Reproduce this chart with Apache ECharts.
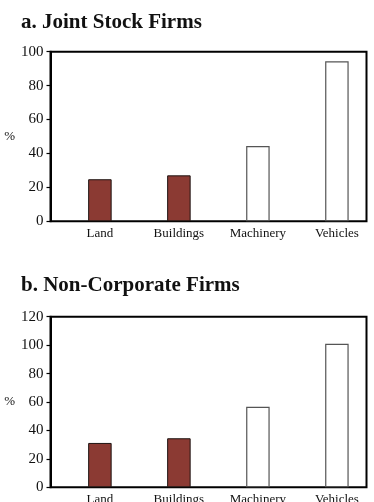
<!DOCTYPE html>
<html>
<head>
<meta charset="utf-8">
<script src="https://cdn.jsdelivr.net/npm/echarts@6/dist/echarts.min.js"></script>
<style>
  html, body { margin: 0; padding: 0; background: #fff; }
  #chart { width: 374px; height: 502px; }
</style>
</head>
<body>
<div id="chart"></div>
<script>
// Asset categories shown on both panels
const categories = ['Land', 'Buildings', 'Machinery', 'Vehicles'];

// Panel a: joint stock firms (%)
const jointStockValues = [24.8, 27.1, 44.4, 94.3];
// Panel b: non-corporate firms (%)
const nonCorporateValues = [31.2, 34.5, 56.7, 101];

// Tick settings for each panel's value axis
const yTicksA = { min: 0, max: 100, interval: 20 };
const yTicksB = { min: 0, max: 120, interval: 20 };

// Immovable assets are filled, movable ones are hollow
const filledCategories = ['Land', 'Buildings'];

const FONT = 'Liberation Serif, Times New Roman, serif';
const RED = '#8b3a33';

function barData(values) {
  return values.map((v, i) => {
    const filled = filledCategories.includes(categories[i]);
    return {
      value: v,
      itemStyle: filled
        ? { color: RED, borderColor: '#1e1412', borderWidth: 1 }
        : { color: '#ffffff', borderColor: '#555', borderWidth: 1.2 }
    };
  });
}

// Each panel uses a frame grid (box + y axis) and a data grid (bars + category labels)
const panels = [
  { title: 'a. Joint Stock Firms', titleTop: 7, top: 51.7, height: 169.6, ticks: yTicksA, values: jointStockValues, namePad: [0, 0, 0, 0], nameGap: 32 },
  { title: 'b. Non-Corporate Firms', titleTop: 270, top: 316.7, height: 170.6, ticks: yTicksB, values: nonCorporateValues, namePad: [0, 0, 7, 0], nameGap: 35 }
];

const option = {
  animation: false,
  backgroundColor: '#fff',
  title: [],
  grid: [],
  xAxis: [],
  yAxis: [],
  series: []
};

panels.forEach((p) => {
  option.title.push({
    text: p.title,
    left: 16,
    top: p.titleTop,
    textStyle: { fontFamily: FONT, fontWeight: 'bold', fontSize: 21, color: '#111' }
  });

  const frameIdx = option.grid.length;
  option.grid.push({
    left: 50.5, top: p.top, width: 316, height: p.height,
    outerBoundsMode: 'none', containLabel: false,
    show: true, borderColor: '#000', borderWidth: 2, backgroundColor: 'transparent'
  });
  const dataIdx = option.grid.length;
  option.grid.push({
    left: 60.4, top: p.top, width: 316, height: p.height,
    outerBoundsMode: 'none', containLabel: false
  });

  // frame axes
  option.xAxis.push({ type: 'value', gridIndex: frameIdx, show: false, min: 0, max: 1 });
  option.yAxis.push({
    type: 'value', gridIndex: frameIdx,
    min: p.ticks.min, max: p.ticks.max, interval: p.ticks.interval,
    name: '%', nameLocation: 'middle', nameRotate: 0, nameGap: p.nameGap,
    nameTextStyle: { fontFamily: FONT, fontSize: 13, color: '#111', padding: p.namePad },
    axisLine: { show: true, lineStyle: { color: '#000', width: 2 } },
    axisTick: { show: true, length: 4, lineStyle: { color: '#000', width: 1.2 } },
    axisLabel: { fontFamily: FONT, fontSize: 15, color: '#111', margin: 7 },
    splitLine: { show: false }
  });

  // data axes
  const xIdx = option.xAxis.length;
  option.xAxis.push({
    type: 'category', gridIndex: dataIdx, data: categories,
    axisLine: { show: false }, axisTick: { show: false },
    axisLabel: { fontFamily: FONT, fontSize: 13, color: '#111', margin: 6 }
  });
  const yIdx = option.yAxis.length;
  option.yAxis.push({
    type: 'value', gridIndex: dataIdx, show: false,
    min: p.ticks.min, max: p.ticks.max, interval: p.ticks.interval,
    splitLine: { show: false }
  });

  option.series.push({
    type: 'bar',
    xAxisIndex: xIdx, yAxisIndex: yIdx,
    barWidth: 23.5,
    data: barData(p.values)
  });
});

const chart = echarts.init(document.getElementById('chart'), null, { renderer: 'canvas' });
chart.setOption(option);
</script>
</body>
</html>
